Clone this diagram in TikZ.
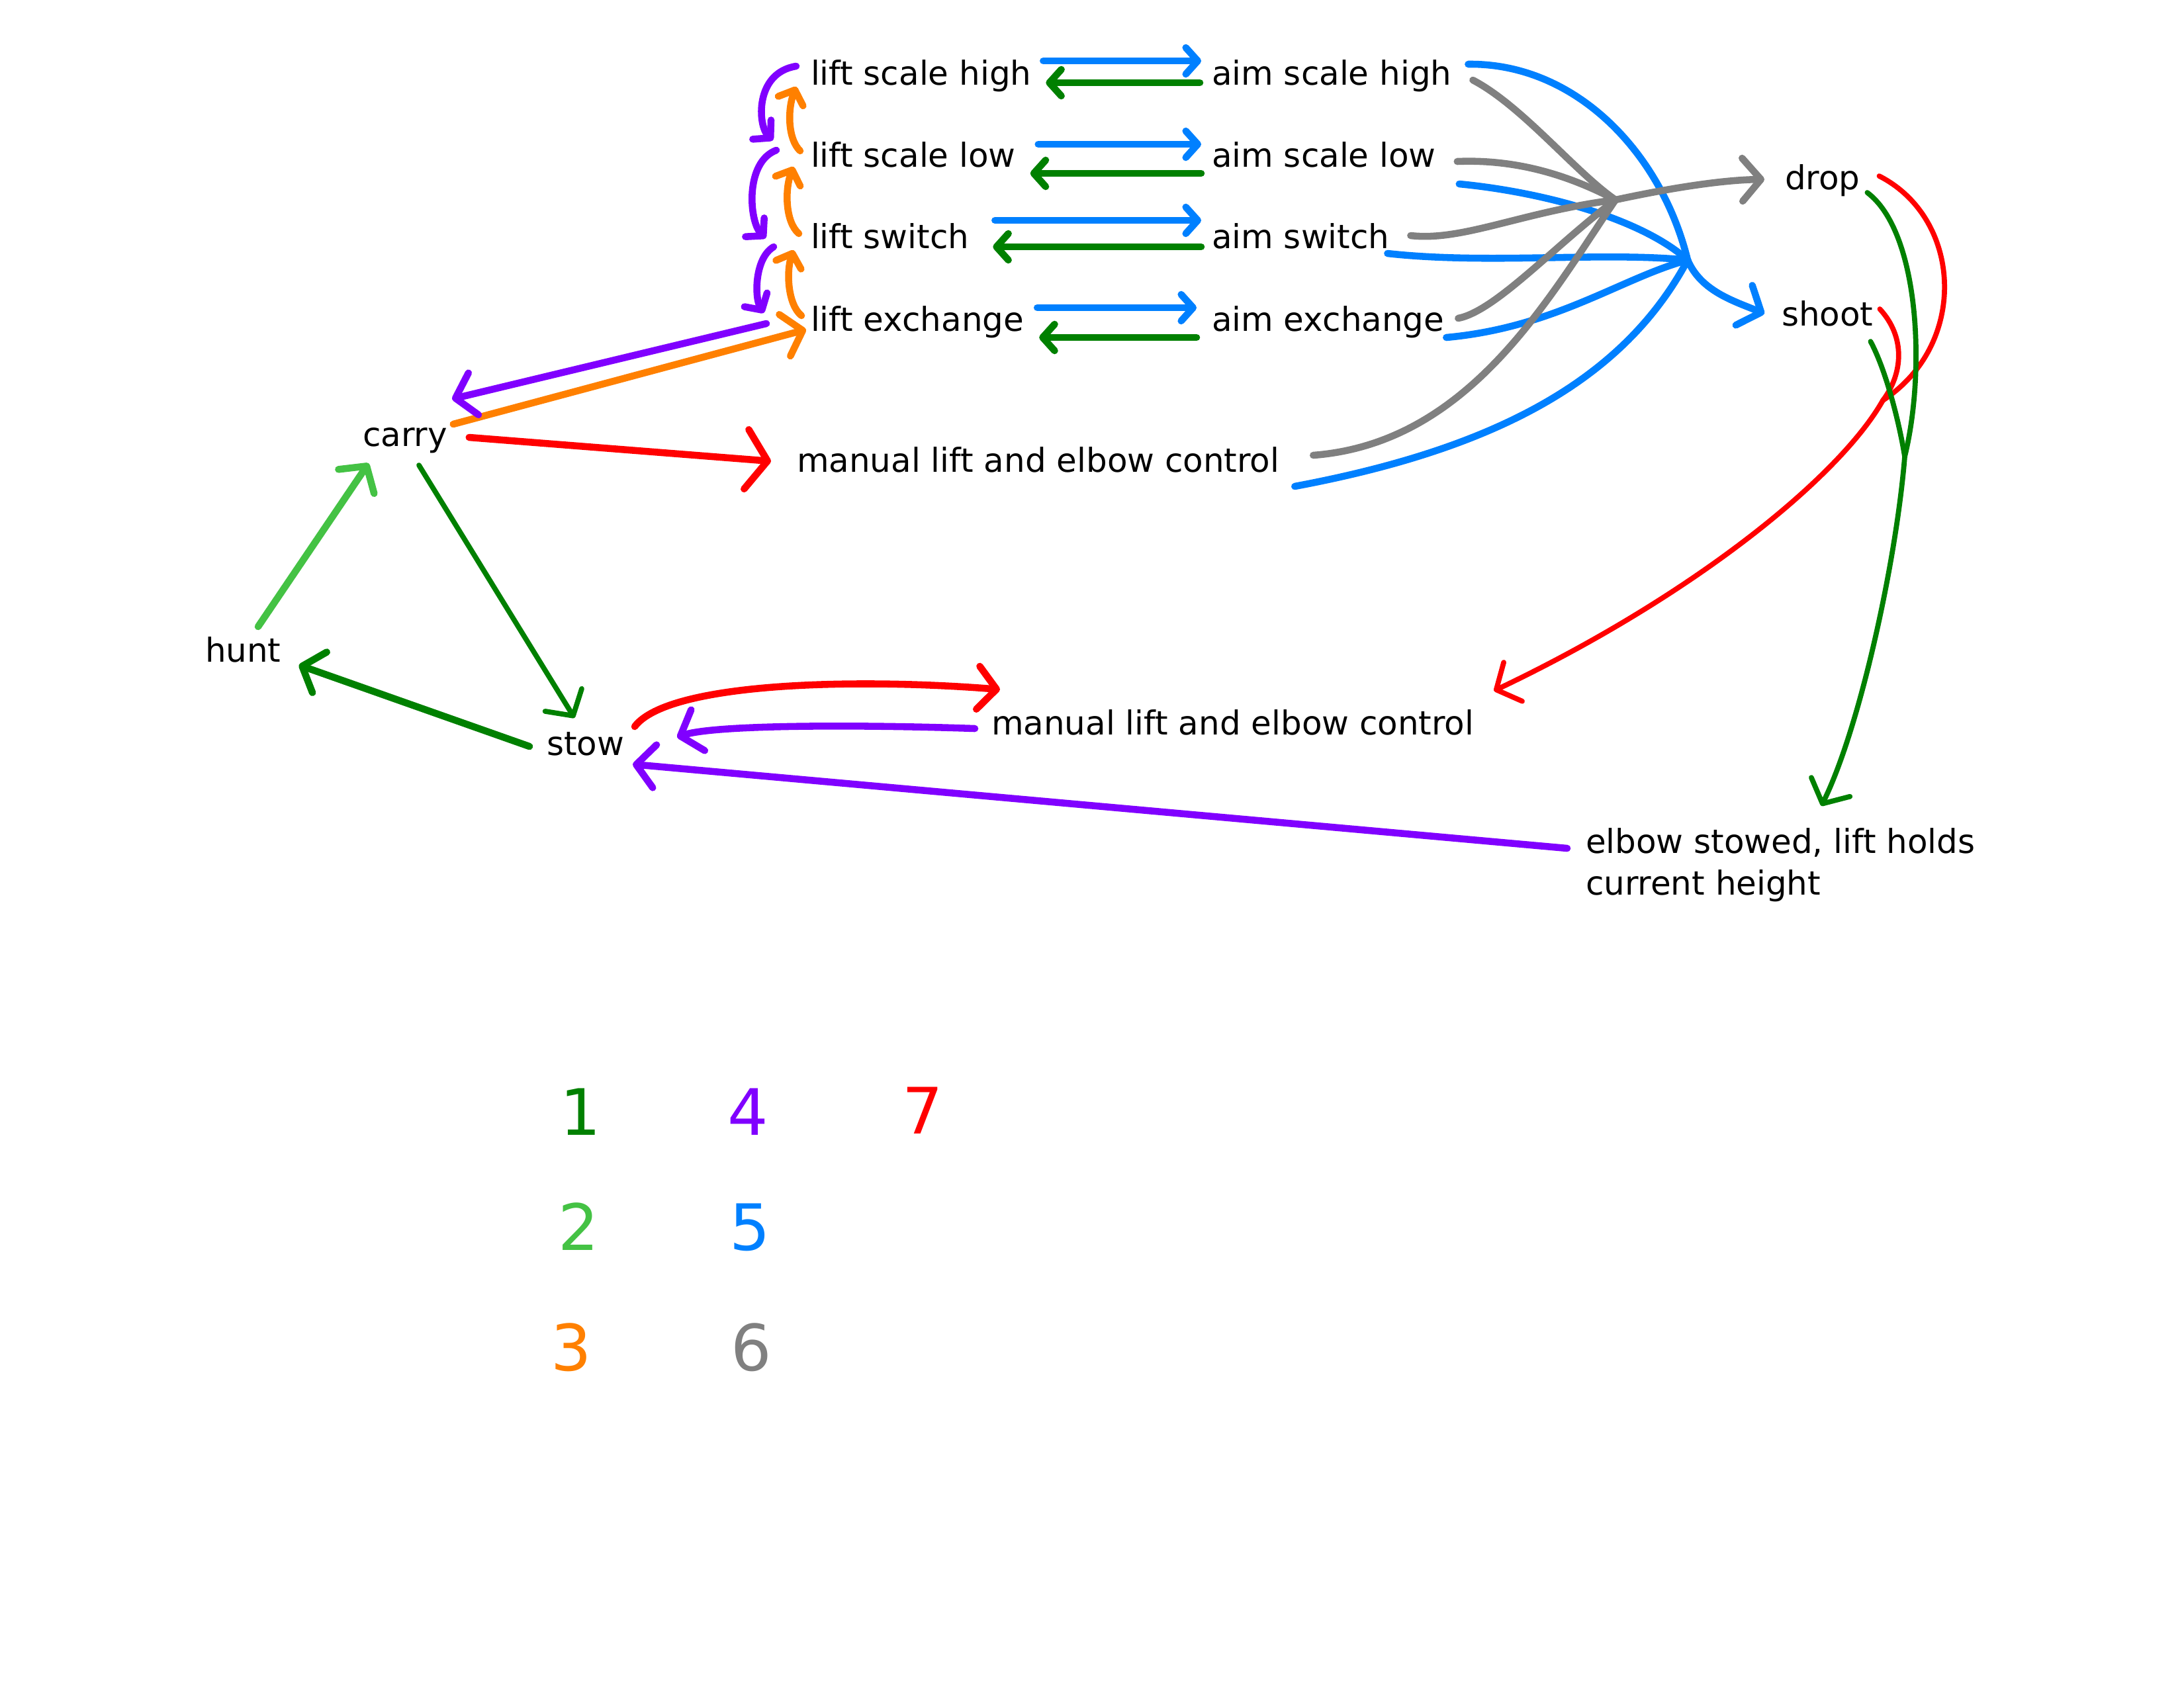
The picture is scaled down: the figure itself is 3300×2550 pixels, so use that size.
\documentclass[tikz,border=0pt]{standalone}
\usepackage{fontspec}
\setmainfont{DejaVu Sans}
\usetikzlibrary{arrows.meta}

\definecolor{darkgrn}{HTML}{008000}
\definecolor{litegrn}{HTML}{44C244}
\definecolor{orng}{HTML}{FF8000}
\definecolor{purp}{HTML}{8000FF}
\definecolor{blu}{HTML}{0080FF}
\definecolor{gry}{HTML}{808080}
\definecolor{rd}{HTML}{FF0000}

\tikzset{
  lbl/.style={inner sep=0pt, outer sep=0pt, anchor=base west, font=\fontsize{14.2}{17.9}\selectfont},
  num/.style={inner sep=0pt, outer sep=0pt, anchor=base, font=\fontsize{27.5}{33}\selectfont},
  pen/.style={line width=3pt, line cap=round, line join=round},
  thinpen/.style={line width=2.2pt, line cap=round, line join=round},
  tipS/.style={-{Straight Barb[length=1.8mm, width=4mm, round]}},
  tipL/.style={-{Straight Barb[length=2.8mm, width=6.5mm, round]}},
  tipXL/.style={-{Straight Barb[length=3.2mm, width=9mm, round]}}
}

\begin{document}
\begin{tikzpicture}[x=0.01cm, y=-0.01cm]
    \useasboundingbox (0,0) rectangle (3300,2550);

    \node[lbl] (lsh) at (1225,128) {lift scale high};
    \node[lbl] (lsl) at (1225,252) {lift scale low};
    \node[lbl] (lsw) at (1225,375) {lift switch};
    \node[lbl] (lex) at (1225,500) {lift exchange};
    \node[lbl] (ash) at (1831,128) {aim scale high};
    \node[lbl] (asl) at (1831,252) {aim scale low};
    \node[lbl] (asw) at (1831,375) {aim switch};
    \node[lbl] (aex) at (1831,500) {aim exchange};
    \node[lbl] (drop) at (2697,286) {drop};
    \node[lbl] (shoot) at (2692,492) {shoot};
    \node[lbl] (carry) at (548,674) {carry};
    \node[lbl] (mtop) at (1204,713) {manual lift and elbow control};
    \node[lbl] (hunt) at (310,1000) {hunt};
    \node[lbl] (stow) at (826,1141) {stow};
    \node[lbl] (mbot) at (1498,1110) {manual lift and elbow control};
    \node[lbl, align=left, anchor=north west] (elbow) at (2396,1252) {elbow stowed, lift holds\\current height};

    \node[num, text=darkgrn] (n1) at (877,1715) {1};
    \node[num, text=litegrn] (n2) at (874,1889) {2};
    \node[num, text=orng] (n3) at (863,2071) {3};
    \node[num, text=purp] (n4) at (1130,1715) {4};
    \node[num, text=blu] (n5) at (1133,1889) {5};
    \node[num, text=gry] (n6) at (1135,2071) {6};
    \node[num, text=rd] (n7) at (1394,1713) {7};

    \coordinate (fan5) at (2550,393);
    \coordinate (fan6) at (2441,302);
    \coordinate (redm) at (2845,605);
    \coordinate (grnm) at (2878,690);

    \draw[pen, blu, tipS] ([shift={(18,-36)}]lsh.base east) -- ([shift={(-16,-36)}]ash.base west);
    \draw[pen, darkgrn, tipS] ([shift={(-18,-3)}]ash.base west) -- ([shift={(22,-3)}]lsh.base east);
    \draw[pen, blu, tipS] ([shift={(34,-34)}]lsl.base east) -- ([shift={(-16,-34)}]asl.base west);
    \draw[pen, darkgrn, tipS] ([shift={(-16,10)}]asl.base west) -- ([shift={(22,10)}]lsl.base east);
    \draw[pen, blu, tipS] ([shift={(39,-42)}]lsw.base east) -- ([shift={(-16,-42)}]asw.base west);
    \draw[pen, darkgrn, tipS] ([shift={(-16,-2)}]asw.base west) -- ([shift={(36,-2)}]lsw.base east);
    \draw[pen, blu, tipS] ([shift={(20,-35)}]lex.base east) -- ([shift={(-23,-35)}]aex.base west);
    \draw[pen, darkgrn, tipS] ([shift={(-23,10)}]aex.base west) -- ([shift={(23,10)}]lex.base east);

    \draw[pen, purp, tipS] ([shift={(-22,-28)}]lsh.base west) .. controls (1140,110) and (1145,190) .. ([shift={(-57,-40)}]lsl.base west);
    \draw[pen, purp, tipS] ([shift={(-52,-25)}]lsl.base west) .. controls (1125,245) and (1132,335) .. ([shift={(-68,-15)}]lsw.base west);
    \draw[pen, purp, tipS] ([shift={(-56,-2)}]lsw.base west) .. controls (1140,390) and (1140,450) .. ([shift={(-71,-27)}]lex.base west);
    \draw[pen, orng, tipS] ([shift={(-16,-24)}]lsl.base west) .. controls (1190,210) and (1190,165) .. ([shift={(-22,3)}]lsh.base west);
    \draw[pen, orng, tipS] ([shift={(-18,-22)}]lsw.base west) .. controls (1186,335) and (1186,285) .. ([shift={(-26,0)}]lsl.base west);
    \draw[pen, orng, tipS] ([shift={(-14,-23)}]lex.base west) .. controls (1190,460) and (1188,410) .. ([shift={(-26,3)}]lsw.base west);

    \draw[pen, orng, tipL] ([shift={(9,-33)}]carry.base east) -- ([shift={(-7,-2)}]lex.base west);
    \draw[pen, purp, tipL] ([shift={(-67,-11)}]lex.base west) -- ([shift={(135,-71)}]carry.base west);
    \draw[pen, rd, tipXL] ([shift={(33,-13)}]carry.base east) -- ([shift={(-39,-16)}]mtop.base west);
    \draw[pen, litegrn, tipL] ([shift={(80,-53)}]hunt.base west) -- ([shift={(9,26)}]carry.base west);
    \draw[thinpen, darkgrn, tipL] ([shift={(85,29)}]carry.base west) -- ([shift={(42,-56)}]stow.base west);
    \draw[pen, darkgrn, tipL] ([shift={(-26,-13)}]stow.base west) -- ([shift={(27,5)}]hunt.base east);
    \draw[pen, rd, tipL] ([shift={(16,-43)}]stow.base east) .. controls (1010,1030) and (1300,1025) .. ([shift={(13,-68)}]mbot.base west);
    \draw[pen, purp, tipL] ([shift={(-25,-9)}]mbot.base west) .. controls (1300,1095) and (1080,1095) .. ([shift={(80,-27)}]stow.base east);
    \draw[pen, purp, tipL] ([shift={(-28,30)}]elbow.north west) -- ([shift={(13,14)}]stow.base east);

    \draw[pen, blu] ([shift={(25,-31)}]ash.base east) .. controls (2380,95) and (2510,230) .. (fan5);
    \draw[pen, blu] ([shift={(35,26)}]asl.base east) .. controls (2330,290) and (2480,330) .. (fan5);
    \draw[pen, blu] ([shift={(-3,8)}]asw.base east) .. controls (2250,400) and (2420,380) .. (fan5);
    \draw[pen, blu] ([shift={(3,10)}]aex.base east) .. controls (2350,495) and (2450,420) .. (fan5);
    \draw[pen, blu] ([shift={(23,22)}]mtop.base east) .. controls (2250,680) and (2450,580) .. (fan5);
    \draw[pen, blu, tipL] (fan5) .. controls (2570,440) and (2620,455) .. ([shift={(-26,-18)}]shoot.base west);

    \draw[pen, gry] ([shift={(32,-7)}]ash.base east) .. controls (2300,160) and (2380,260) .. (fan6);
    \draw[pen, gry] ([shift={(32,-8)}]asl.base east) .. controls (2300,240) and (2380,270) .. (fan6);
    \draw[pen, gry] ([shift={(32,-19)}]asw.base east) .. controls (2210,365) and (2300,320) .. (fan6);
    \draw[pen, gry] ([shift={(21,-19)}]aex.base east) .. controls (2260,470) and (2350,370) .. (fan6);
    \draw[pen, gry] ([shift={(51,-25)}]mtop.base east) .. controls (2220,670) and (2340,450) .. (fan6);
    \draw[pen, gry, tipL] (fan6) .. controls (2520,285) and (2600,272) .. ([shift={(-31,-15)}]drop.base west);

    \draw[thinpen, rd] ([shift={(29,-20)}]drop.base east) .. controls (2965,330) and (2975,520) .. (redm);
    \draw[thinpen, rd] ([shift={(10,-25)}]shoot.base east) .. controls (2880,510) and (2875,565) .. (redm);
    \draw[thinpen, rd, tipL] (redm) .. controls (2780,720) and (2560,900) .. ([shift={(30,-66)}]mbot.base east);

    \draw[thinpen, darkgrn] ([shift={(11,5)}]drop.base east) .. controls (2900,350) and (2910,560) .. (grnm);
    \draw[thinpen, darkgrn] ([shift={(-4,24)}]shoot.base east) .. controls (2850,560) and (2870,640) .. (grnm);
    \draw[thinpen, darkgrn, tipL] (grnm) .. controls (2865,850) and (2810,1100) .. ([shift={(356,-34)}]elbow.north west);
\end{tikzpicture}
\end{document}
